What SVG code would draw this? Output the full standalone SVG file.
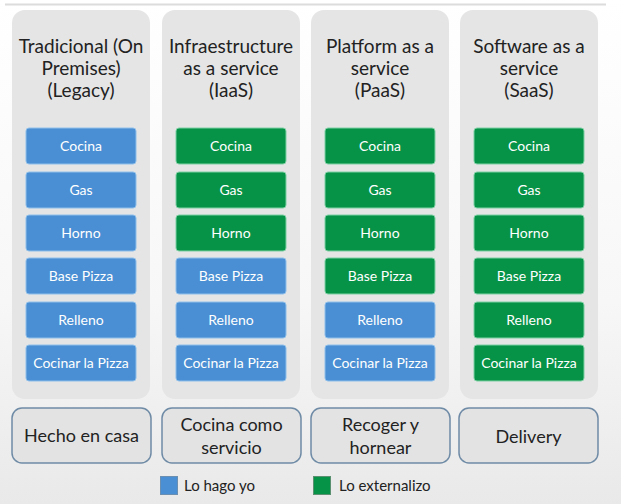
<svg xmlns="http://www.w3.org/2000/svg" width="621" height="504" viewBox="0 0 621 504">
<defs>
<linearGradient id="bg" x1="0" y1="0" x2="0" y2="1">
<stop offset="0" stop-color="#ffffff"/>
<stop offset="0.6" stop-color="#f7f7f7"/>
<stop offset="1" stop-color="#e9e9e9"/>
</linearGradient>
<style>
.panel{fill:#e5e5e5;}
.title{font-family:Lato,"Liberation Sans",sans-serif;font-size:19px;fill:#222;text-anchor:middle;}
.b{fill:#4a8fd3;stroke:#8fc0ea;stroke-width:1;}
.g{fill:#079347;stroke:#7fd0a4;stroke-width:1;}
.bt{font-family:Lato,"Liberation Sans",sans-serif;font-size:14px;fill:#fff;text-anchor:middle;}
.bot{fill:#e3e3e3;stroke:#6f8ba6;stroke-width:1.5;}
.btxt{font-family:Lato,"Liberation Sans",sans-serif;font-size:18px;fill:#222;text-anchor:middle;}
.leg{font-family:Lato,"Liberation Sans",sans-serif;font-size:15px;fill:#222;}
</style>
</defs>
<rect width="621" height="504" fill="url(#bg)"/>
<line x1="5" y1="4.5" x2="606" y2="4.5" stroke="#dcdcdc" stroke-width="2"/>

<g id="col-tradicional">
<rect class="panel" x="12" y="10" width="138" height="389" rx="13"/>
<text class="title" x="81" y="53">Tradicional (On</text>
<text class="title" x="81" y="75">Premises)</text>
<text class="title" x="81" y="97">(Legacy)</text>
<rect class="b" x="26" y="128" width="110" height="36" rx="3"/><text class="bt" x="81" y="151">Cocina</text>
<rect class="b" x="26" y="172" width="110" height="36" rx="3"/><text class="bt" x="81" y="194.5">Gas</text>
<rect class="b" x="26" y="215" width="110" height="36" rx="3"/><text class="bt" x="81" y="238">Horno</text>
<rect class="b" x="26" y="258" width="110" height="36" rx="3"/><text class="bt" x="81" y="281">Base Pizza</text>
<rect class="b" x="26" y="302" width="110" height="36" rx="3"/><text class="bt" x="81" y="324.5">Relleno</text>
<rect class="b" x="26" y="345" width="110" height="36" rx="3"/><text class="bt" x="81" y="368">Cocinar la Pizza</text>
</g>

<g id="col-iaas">
<rect class="panel" x="162" y="10" width="138" height="389" rx="13"/>
<text class="title" x="231" y="53">Infraestructure</text>
<text class="title" x="231" y="75">as a service</text>
<text class="title" x="231" y="97">(IaaS)</text>
<rect class="g" x="176" y="128" width="110" height="36" rx="3"/><text class="bt" x="231" y="151">Cocina</text>
<rect class="g" x="176" y="172" width="110" height="36" rx="3"/><text class="bt" x="231" y="194.5">Gas</text>
<rect class="g" x="176" y="215" width="110" height="36" rx="3"/><text class="bt" x="231" y="238">Horno</text>
<rect class="b" x="176" y="258" width="110" height="36" rx="3"/><text class="bt" x="231" y="281">Base Pizza</text>
<rect class="b" x="176" y="302" width="110" height="36" rx="3"/><text class="bt" x="231" y="324.5">Relleno</text>
<rect class="b" x="176" y="345" width="110" height="36" rx="3"/><text class="bt" x="231" y="368">Cocinar la Pizza</text>
</g>

<g id="col-paas">
<rect class="panel" x="311" y="10" width="138" height="389" rx="13"/>
<text class="title" x="380" y="53">Platform as a</text>
<text class="title" x="380" y="75">service</text>
<text class="title" x="380" y="97">(PaaS)</text>
<rect class="g" x="325" y="128" width="110" height="36" rx="3"/><text class="bt" x="380" y="151">Cocina</text>
<rect class="g" x="325" y="172" width="110" height="36" rx="3"/><text class="bt" x="380" y="194.5">Gas</text>
<rect class="g" x="325" y="215" width="110" height="36" rx="3"/><text class="bt" x="380" y="238">Horno</text>
<rect class="g" x="325" y="258" width="110" height="36" rx="3"/><text class="bt" x="380" y="281">Base Pizza</text>
<rect class="b" x="325" y="302" width="110" height="36" rx="3"/><text class="bt" x="380" y="324.5">Relleno</text>
<rect class="b" x="325" y="345" width="110" height="36" rx="3"/><text class="bt" x="380" y="368">Cocinar la Pizza</text>
</g>

<g id="col-saas">
<rect class="panel" x="460" y="10" width="138" height="389" rx="13"/>
<text class="title" x="529" y="53">Software as a</text>
<text class="title" x="529" y="75">service</text>
<text class="title" x="529" y="97">(SaaS)</text>
<rect class="g" x="474" y="128" width="110" height="36" rx="3"/><text class="bt" x="529" y="151">Cocina</text>
<rect class="g" x="474" y="172" width="110" height="36" rx="3"/><text class="bt" x="529" y="194.5">Gas</text>
<rect class="g" x="474" y="215" width="110" height="36" rx="3"/><text class="bt" x="529" y="238">Horno</text>
<rect class="g" x="474" y="258" width="110" height="36" rx="3"/><text class="bt" x="529" y="281">Base Pizza</text>
<rect class="g" x="474" y="302" width="110" height="36" rx="3"/><text class="bt" x="529" y="324.5">Relleno</text>
<rect class="g" x="474" y="345" width="110" height="36" rx="3"/><text class="bt" x="529" y="368">Cocinar la Pizza</text>
</g>

<g id="bottom-hecho">
<rect class="bot" x="12" y="408" width="139" height="55" rx="10"/>
<text class="btxt" x="81.5" y="442">Hecho en casa</text>
</g>
<g id="bottom-cocina">
<rect class="bot" x="162" y="408" width="139" height="55" rx="10"/>
<text class="btxt" x="231.5" y="431">Cocina como</text>
<text class="btxt" x="231.5" y="454">servicio</text>
</g>
<g id="bottom-recoger">
<rect class="bot" x="311" y="408" width="139" height="55" rx="10"/>
<text class="btxt" x="380.5" y="431">Recoger y</text>
<text class="btxt" x="380.5" y="454">hornear</text>
</g>
<g id="bottom-delivery">
<rect class="bot" x="459" y="408" width="139" height="55" rx="10"/>
<text class="btxt" x="528.5" y="443">Delivery</text>
</g>

<g id="legend">
<rect x="160.5" y="476.5" width="17" height="18" fill="#4a8fd3" stroke="#6b8fb0" stroke-width="1"/>
<text class="leg" x="184" y="491">Lo hago yo</text>
<rect x="313.5" y="476.5" width="17" height="18" fill="#079347" stroke="#5a8f70" stroke-width="1"/>
<text class="leg" x="339" y="491">Lo externalizo</text>
</g>
<g id="connectors"/>
</svg>
